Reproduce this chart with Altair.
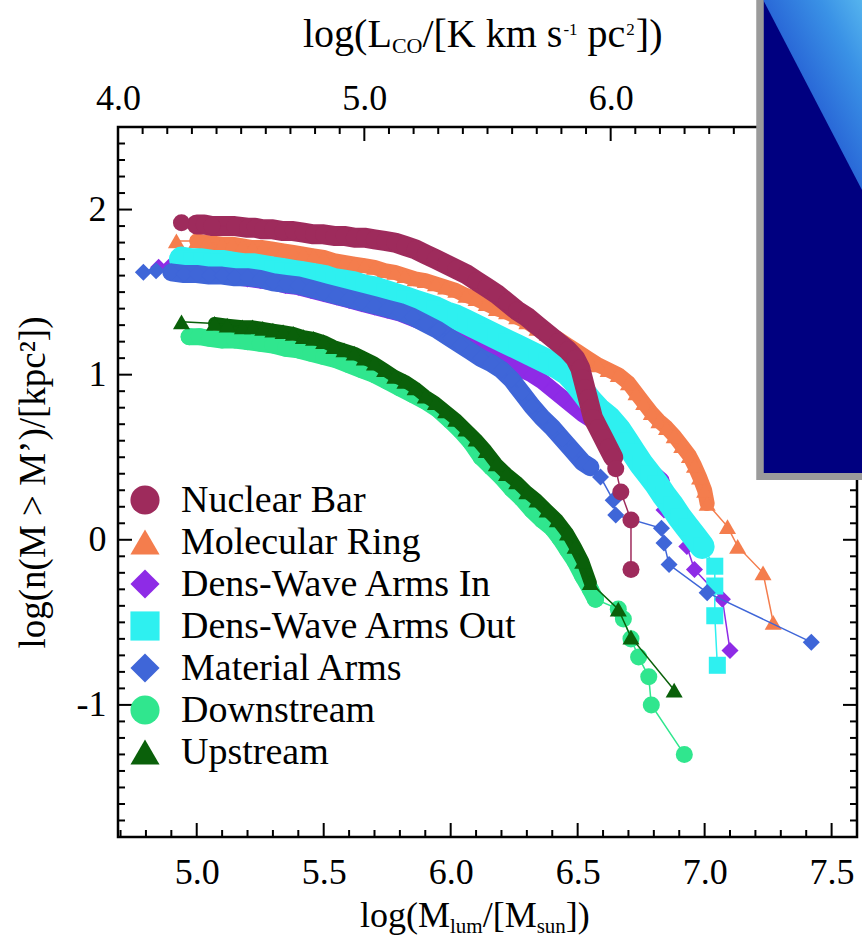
import altair as alt
import pandas as pd

FONT = "Liberation Serif"

# ---------------- data ----------------
series_names = ["Nuclear Bar", "Molecular Ring", "Dens-Wave Arms In", "Dens-Wave Arms Out",
                "Material Arms", "Downstream", "Upstream"]
series_colors = ["#9E2B5C", "#F47D4D", "#8E2BE6", "#2EF0F0", "#3F66D8", "#30E68E", "#0A600A"]
series_shapes = ["circle", "triangle-up", "diamond", "square", "diamond", "circle", "triangle-up"]
draw_order = ["Molecular Ring", "Dens-Wave Arms In", "Dens-Wave Arms Out", "Material Arms",
              "Downstream", "Upstream", "Nuclear Bar"]

nuclear_bar = [(4.94, 1.92), (5.00, 1.91), (5.03, 1.91), (5.06, 1.90), (5.15, 1.90), (5.20, 1.89),
               (5.23, 1.89), (5.26, 1.88), (5.30, 1.88), (5.34, 1.87), (5.38, 1.87), (5.42, 1.86),
               (5.46, 1.85), (5.50, 1.85), (5.54, 1.84), (5.58, 1.84), (5.62, 1.83), (5.66, 1.83),
               (5.70, 1.82), (5.74, 1.81), (5.78, 1.80), (5.82, 1.78), (5.86, 1.76), (5.90, 1.73),
               (5.94, 1.70), (5.98, 1.67), (6.02, 1.64), (6.06, 1.61), (6.10, 1.57), (6.14, 1.53),
               (6.18, 1.49), (6.22, 1.44), (6.26, 1.39), (6.30, 1.35), (6.34, 1.30), (6.38, 1.25),
               (6.42, 1.20), (6.46, 1.15), (6.49, 1.10), (6.51, 1.04), (6.52, 0.98), (6.53, 0.92),
               (6.54, 0.86), (6.55, 0.80), (6.56, 0.74), (6.58, 0.68), (6.60, 0.62), (6.62, 0.56),
               (6.64, 0.50), (6.65, 0.43), (6.67, 0.29), (6.71, 0.12), (6.71, -0.18)]

molecular_ring = [(4.92, 1.81), (5.00, 1.81), (5.04, 1.80), (5.10, 1.79), (5.14, 1.79), (5.18, 1.78),
                  (5.22, 1.77), (5.26, 1.77), (5.30, 1.76), (5.34, 1.75), (5.38, 1.74), (5.42, 1.73),
                  (5.46, 1.72), (5.50, 1.71), (5.54, 1.69), (5.58, 1.68), (5.62, 1.67), (5.66, 1.66),
                  (5.70, 1.65), (5.74, 1.63), (5.78, 1.62), (5.82, 1.60), (5.86, 1.58), (5.90, 1.57),
                  (5.94, 1.55), (5.98, 1.53), (6.02, 1.51), (6.06, 1.48), (6.10, 1.46), (6.14, 1.43),
                  (6.18, 1.40), (6.22, 1.38), (6.26, 1.35), (6.30, 1.32), (6.34, 1.28), (6.38, 1.25),
                  (6.42, 1.22), (6.46, 1.18), (6.50, 1.14), (6.54, 1.10), (6.58, 1.06), (6.62, 1.03),
                  (6.66, 1.00), (6.70, 0.95), (6.73, 0.89), (6.76, 0.83), (6.79, 0.77), (6.82, 0.72),
                  (6.85, 0.68), (6.88, 0.63), (6.91, 0.57), (6.94, 0.51), (6.96, 0.45), (6.98, 0.38),
                  (7.00, 0.30), (7.01, 0.22), (7.09, 0.08), (7.13, -0.04), (7.23, -0.20), (7.27, -0.50)]

arms_in = [(4.85, 1.65), (4.89, 1.65), (4.95, 1.63), (5.00, 1.62), (5.05, 1.61), (5.10, 1.60),
           (5.15, 1.59), (5.20, 1.58), (5.25, 1.57), (5.30, 1.56), (5.35, 1.54), (5.40, 1.53),
           (5.45, 1.51), (5.50, 1.49), (5.55, 1.47), (5.60, 1.45), (5.65, 1.43), (5.70, 1.41),
           (5.75, 1.39), (5.80, 1.37), (5.85, 1.34), (5.90, 1.31), (5.95, 1.28), (6.00, 1.24),
           (6.04, 1.21), (6.08, 1.18), (6.12, 1.15), (6.16, 1.12), (6.20, 1.09), (6.24, 1.06),
           (6.28, 1.03), (6.32, 1.00), (6.36, 0.96), (6.40, 0.91), (6.44, 0.86), (6.48, 0.81),
           (6.52, 0.76), (6.56, 0.72), (6.60, 0.68), (6.64, 0.62), (6.68, 0.56), (6.72, 0.50),
           (6.76, 0.45), (6.80, 0.40), (6.83, 0.36), (6.84, 0.18), (6.93, -0.04), (6.96, -0.18),
           (7.07, -0.36), (7.10, -0.67)]

arms_out = [(4.94, 1.70), (4.98, 1.69), (5.02, 1.69), (5.06, 1.68), (5.10, 1.68), (5.14, 1.67),
            (5.18, 1.66), (5.22, 1.66), (5.26, 1.65), (5.30, 1.64), (5.34, 1.63), (5.38, 1.62),
            (5.42, 1.61), (5.46, 1.60), (5.50, 1.59), (5.54, 1.57), (5.58, 1.56), (5.62, 1.55),
            (5.66, 1.53), (5.70, 1.52), (5.74, 1.50), (5.78, 1.48), (5.82, 1.46), (5.86, 1.44),
            (5.90, 1.42), (5.94, 1.40), (5.98, 1.37), (6.02, 1.35), (6.06, 1.32), (6.10, 1.29),
            (6.14, 1.26), (6.18, 1.23), (6.22, 1.20), (6.26, 1.17), (6.30, 1.14), (6.34, 1.11),
            (6.38, 1.08), (6.42, 1.05), (6.46, 1.01), (6.49, 0.96), (6.52, 0.90), (6.55, 0.84),
            (6.58, 0.79), (6.62, 0.74), (6.66, 0.67), (6.69, 0.60), (6.72, 0.53), (6.75, 0.46),
            (6.78, 0.40), (6.81, 0.34), (6.84, 0.27), (6.87, 0.21), (6.90, 0.14), (6.93, 0.08),
            (6.96, 0.02), (6.99, -0.04), (7.04, -0.16), (7.04, -0.28), (7.04, -0.46), (7.05, -0.76)]

material_arms = [(4.79, 1.62), (4.84, 1.63), (4.90, 1.62), (4.95, 1.61), (5.00, 1.61), (5.05, 1.60),
                 (5.10, 1.60), (5.15, 1.59), (5.20, 1.59), (5.25, 1.58), (5.30, 1.56), (5.35, 1.55),
                 (5.40, 1.54), (5.45, 1.52), (5.50, 1.50), (5.55, 1.48), (5.60, 1.46), (5.65, 1.44),
                 (5.70, 1.42), (5.75, 1.40), (5.80, 1.38), (5.85, 1.35), (5.90, 1.31), (5.95, 1.27),
                 (6.00, 1.22), (6.04, 1.18), (6.08, 1.14), (6.12, 1.10), (6.16, 1.07), (6.20, 1.03),
                 (6.24, 0.97), (6.28, 0.89), (6.32, 0.81), (6.36, 0.74), (6.40, 0.68), (6.44, 0.61),
                 (6.48, 0.54), (6.52, 0.47), (6.55, 0.44), (6.59, 0.38), (6.64, 0.24), (6.65, 0.15),
                 (6.83, 0.07), (6.84, -0.02), (6.86, -0.15), (7.01, -0.32), (7.42, -0.62)]

downstream = [(4.97, 1.23), (5.01, 1.23), (5.05, 1.22), (5.10, 1.21), (5.15, 1.21), (5.20, 1.20),
              (5.25, 1.19), (5.30, 1.18), (5.35, 1.16), (5.40, 1.15), (5.45, 1.13), (5.50, 1.11),
              (5.55, 1.09), (5.60, 1.06), (5.65, 1.03), (5.70, 1.00), (5.75, 0.96), (5.80, 0.92),
              (5.85, 0.88), (5.90, 0.84), (5.95, 0.79), (6.00, 0.72), (6.04, 0.66), (6.08, 0.59),
              (6.12, 0.50), (6.16, 0.44), (6.20, 0.38), (6.24, 0.31), (6.28, 0.25), (6.32, 0.18),
              (6.36, 0.12), (6.40, 0.07), (6.43, 0.01), (6.46, -0.06), (6.49, -0.13), (6.52, -0.22),
              (6.55, -0.30), (6.57, -0.36), (6.66, -0.42), (6.68, -0.48), (6.71, -0.60), (6.74, -0.71),
              (6.78, -0.83), (6.79, -1.00), (6.92, -1.30)]

upstream = [(4.94, 1.32), (5.07, 1.31), (5.12, 1.30), (5.18, 1.29), (5.22, 1.29), (5.26, 1.28),
            (5.30, 1.27), (5.34, 1.26), (5.38, 1.25), (5.42, 1.23), (5.46, 1.22), (5.50, 1.20),
            (5.54, 1.17), (5.58, 1.15), (5.62, 1.13), (5.66, 1.10), (5.70, 1.07), (5.74, 1.03),
            (5.78, 0.99), (5.82, 0.96), (5.86, 0.92), (5.90, 0.87), (5.94, 0.83), (5.98, 0.78),
            (6.02, 0.73), (6.06, 0.67), (6.10, 0.61), (6.14, 0.54), (6.18, 0.46), (6.22, 0.40),
            (6.26, 0.35), (6.30, 0.29), (6.34, 0.24), (6.38, 0.18), (6.42, 0.12), (6.46, 0.04),
            (6.49, -0.04), (6.52, -0.13), (6.55, -0.26), (6.66, -0.42), (6.71, -0.59), (6.88, -0.91)]

series_data = {
    "Nuclear Bar": nuclear_bar,
    "Molecular Ring": molecular_ring,
    "Dens-Wave Arms In": arms_in,
    "Dens-Wave Arms Out": arms_out,
    "Material Arms": material_arms,
    "Downstream": downstream,
    "Upstream": upstream,
}
# index range (start, end) of the densely packed part of each curve, where markers merge into a band
dense_part = {
    "Nuclear Bar": (1, 49),
    "Molecular Ring": (1, 56),
    "Dens-Wave Arms In": (2, 45),
    "Dens-Wave Arms Out": (0, 56),
    "Material Arms": (2, 39),
    "Downstream": (0, 38),
    "Upstream": (1, 39),
}
band_width = {"Nuclear Bar": 20, "Molecular Ring": 15, "Dens-Wave Arms In": 16,
              "Dens-Wave Arms Out": 25, "Material Arms": 18, "Downstream": 17, "Upstream": 13}

# axis tick values
x_major = [5.0, 5.5, 6.0, 6.5, 7.0, 7.5]
x_minor = [round(4.7 + 0.1 * i, 1) for i in range(30) if round(4.7 + 0.1 * i, 1) not in x_major]
y_major = [-1, 0, 1, 2]
y_minor = [round(-1.7 + 0.1 * i, 1) for i in range(42)
           if abs(round(-1.7 + 0.1 * i, 1) - round(-1.7 + 0.1 * i)) > 0.01]
top_major = [4.0, 5.0, 6.0]
top_minor = [round(4.1 + 0.1 * i, 1) for i in range(29)
             if abs(round(4.1 + 0.1 * i, 1) - round(4.1 + 0.1 * i)) > 0.01]

# ---------------- build ----------------
W, H = 739, 710
xs = alt.Scale(domain=[4.69, 7.6], nice=False, zero=False)
ys = alt.Scale(domain=[-1.8, 2.5], nice=False, zero=False)

xaxis = alt.Axis(values=x_major, format=".1f", ticks=False, tickSize=0, domain=False, grid=False,
                 labelFont=FONT, labelFontSize=36, labelColor="black", labelPadding=18,
                 labelFlush=False, title=None)
yaxis = alt.Axis(values=y_major, labelExpr="'' + datum.value", ticks=False, tickSize=0, domain=False,
                 grid=False, labelFont=FONT, labelFontSize=36, labelColor="black", labelPadding=12,
                 title="log(n(M > M’)/[kpc²])", titleFont=FONT, titleFontSize=37,
                 titleFontWeight="normal", titleColor="black", titlePadding=24)

color_scale = alt.Scale(domain=series_names, range=series_colors)
shape_scale = alt.Scale(domain=series_names, range=series_shapes)
X = alt.X("lm:Q", scale=xs, axis=xaxis)
Y = alt.Y("ln:Q", scale=ys, axis=yaxis)
C = alt.Color("series:N", scale=color_scale, legend=None)
S = alt.Shape("series:N", scale=shape_scale, legend=None)

series_layers = []
for name in draw_order:
    pts = series_data[name]
    a, b = dense_part[name]
    d = pd.DataFrame({"series": name, "idx": list(range(len(pts))),
                      "lm": [p[0] for p in pts], "ln": [p[1] for p in pts],
                      "band": [a <= i < b for i in range(len(pts))]})
    band = alt.Chart(d).transform_filter("datum.band").mark_line(
        strokeWidth=band_width[name], strokeCap="round", strokeJoin="round"
    ).encode(x=X, y=Y, color=C, order="idx:Q")
    thin = alt.Chart(d).mark_line(strokeWidth=1.5).encode(x=X, y=Y, color=C, order="idx:Q")
    mk = alt.Chart(d).mark_point(filled=True, size=290, opacity=1).encode(x=X, y=Y, color=C, shape=S)
    series_layers += [band, thin, mk]


def xticks(vals, length):
    d = pd.DataFrame({"v": vals})
    return alt.Chart(d).mark_rule(color="black", strokeWidth=2).encode(
        x=alt.X("v:Q", scale=xs, axis=xaxis), y=alt.value(H), y2=alt.value(H - length))


def yticks(vals, length, right=False):
    d = pd.DataFrame({"v": vals})
    xa, xb = (W, W - length) if right else (0, length)
    return alt.Chart(d).mark_rule(color="black", strokeWidth=2).encode(
        y=alt.Y("v:Q", scale=ys, axis=yaxis), x=alt.value(xa), x2=alt.value(xb))


main = alt.layer(
    *series_layers,
    xticks(x_major, 14), xticks(x_minor, 7),
    yticks(y_major, 14), yticks(y_minor, 7),
    yticks(y_major, 14, True), yticks(y_minor, 7, True),
)

ts = alt.Scale(domain=[4.0, 7.0], nice=False, zero=False)
taxis = alt.Axis(orient="top", values=top_major, format=".1f", ticks=False, tickSize=0, domain=False,
                 grid=False, labelFont=FONT, labelFontSize=36, labelColor="black", labelPadding=10,
                 labelFlush=False, title=None)


def tticks(vals, length):
    d = pd.DataFrame({"v": vals})
    return alt.Chart(d).mark_rule(color="black", strokeWidth=2).encode(
        x=alt.X("v:Q", scale=ts, axis=taxis), y=alt.value(0), y2=alt.value(length))


top = alt.layer(tticks(top_major, 14), tticks(top_minor, 7))

# legend drawn inside the plot
leg_df = pd.DataFrame({"series": series_names})
LY = alt.Y("series:N", scale=alt.Scale(type="point", domain=series_names, range=[373, 625], padding=0),
           axis=None)
leg_sym = alt.Chart(leg_df).mark_point(filled=True, size=850, opacity=1).encode(
    x=alt.value(27), y=LY, color=C, shape=S)
leg_txt = alt.Chart(leg_df).mark_text(align="left", baseline="middle", font=FONT, fontSize=38,
                                      color="black", dy=1).encode(x=alt.value(63), y=LY, text="series:N")
legend = alt.layer(leg_sym, leg_txt)

one = pd.DataFrame({"k": [0]})

# inset picture in the upper-right corner: dark map with a bright emission wedge
inset = alt.Chart(one).mark_rect(fill="#000080", stroke="#9B9B9B", strokeWidth=7).encode(
    x=alt.value(642), x2=alt.value(780), y=alt.value(-140), y2=alt.value(349.5))
wedge = alt.Chart(one).mark_point(
    shape="M-0.52,-1L0.52,-1L0.52,1Z", size=36100, filled=True, opacity=1, strokeWidth=0,
    fill=alt.LinearGradient(
        gradient="linear",
        stops=[alt.GradientStop(offset=0, color="#1838B8"),
               alt.GradientStop(offset=0.3, color="#2A6AD8"),
               alt.GradientStop(offset=0.7, color="#3A92E6"),
               alt.GradientStop(offset=1, color="#55B4EE")],
        x1=0.3, y1=0.7, x2=1, y2=0),
).encode(x=alt.value(694.6), y=alt.value(-32))
inset_frame = alt.Chart(one).mark_rect(fill="transparent", stroke="#9B9B9B", strokeWidth=7).encode(
    x=alt.value(642), x2=alt.value(780), y=alt.value(-140), y2=alt.value(349.5))

# title pieces with sub/superscripts
WID = {'l': .278, 'o': .5, 'g': .5, '(': .333, ')': .333, 'M': .889, '/': .278, '[': .333, ']': .333,
       'u': .5, 'm': .778, 's': .389, 'n': .5, 'L': .611, 'C': .667, 'O': .722, 'K': .722, 'k': .5,
       ' ': .25, 'p': .5, 'c': .444, '-': .333, '1': .5, '2': .5}


def title_layers(pieces, x0, base):
    out = []
    x = x0
    for text, size, dy, gap in pieces:
        x += gap
        out.append(alt.Chart(one).mark_text(text=text, font=FONT, fontSize=size, align="left",
                                            baseline="alphabetic", color="black")
                   .encode(x=alt.value(x), y=alt.value(base + dy)))
        x += sum(WID.get(ch, 0.5) for ch in text) * size
    return out


bottom_title = title_layers([("log(M", 36, 0, 0), ("lum", 21, 6, 0), ("/[M", 36, 0, 0),
                             ("sun", 21, 6, 0), ("])", 36, 0, 0)], 242, 800)
top_title = title_layers([("log(L", 40, 0, 0), ("CO", 22, 6, 0), ("/[K km s", 40, 0, 0),
                          ("-1", 17, -12, 1), ("pc", 40, 0, 10), ("2", 17, -12, 1),
                          ("])", 40, 0, 1)], 185, -80)

chart = alt.layer(main, top, legend, inset, wedge, inset_frame, *bottom_title, *top_title).resolve_scale(
    x="independent", y="independent"
).properties(
    width=W, height=H,
    padding={"left": 118, "top": 127, "right": 5, "bottom": 105},
    autosize=alt.AutoSizeParams(type="none"),
    background="white",
).configure_view(stroke="black", strokeWidth=2.5)

chart.save("out.html", embed_options={"renderer": "svg", "actions": False})
